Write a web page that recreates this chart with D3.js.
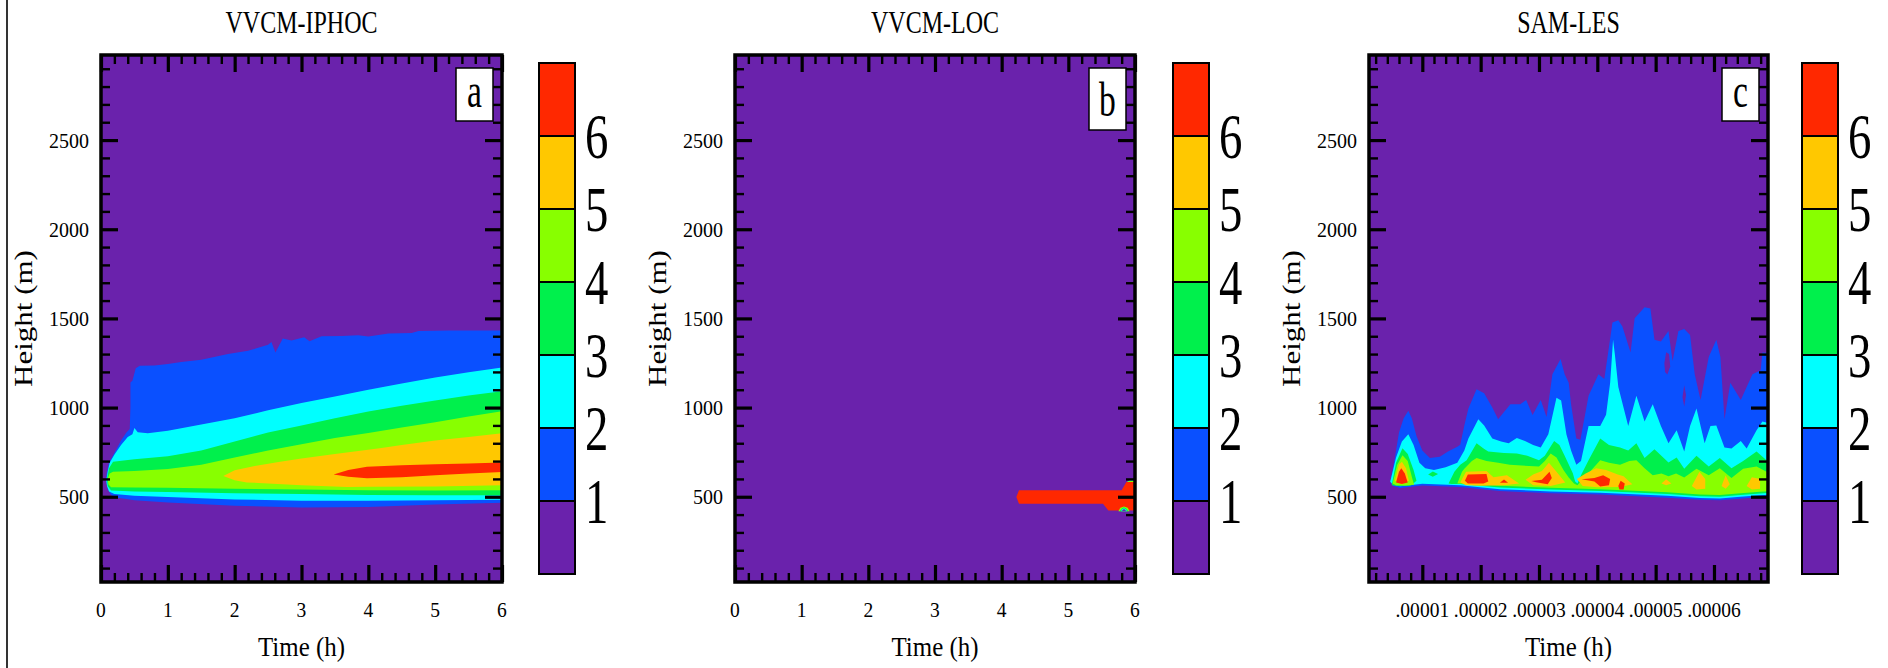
<!DOCTYPE html>
<html>
<head>
<meta charset="utf-8">
<script src="https://cdn.jsdelivr.net/npm/d3@7"></script>
<style>
  html, body { margin: 0; padding: 0; background: #fff; }
  svg { display: block; }
  text { font-family: "Liberation Serif", "Times New Roman", Times, serif; fill: #000; }
</style>
</head>
<body>
<svg id="chart" width="1888" height="668"></svg>
<script>
// ---------------------------------------------------------------
// Chart values
// ---------------------------------------------------------------
const panelTitles  = ["VVCM-IPHOC", "VVCM-LOC", "SAM-LES"];
const panelLetters = ["a", "b", "c"];

// contour levels and their fill colours (index 0 = below level 1)
const levelValues = [1, 2, 3, 4, 5, 6];
const levelColors = ["#6A22AC", "#0A50FF", "#00FFFF", "#00F04C", "#88FF00", "#FFC800", "#FF2800"];

const heightDomain     = [22, 2977];
const heightTicks      = [500, 1000, 1500, 2000, 2500];
const heightTickLabels = ["500", "1000", "1500", "2000", "2500"];

const hourDomain     = [0, 6];
const hourTicks      = [0, 1, 2, 3, 4, 5, 6];
const hourTickLabels = ["0", "1", "2", "3", "4", "5", "6"];

const lesDomain     = [0.086e-5, 6.926e-5];
const lesTicks      = [1e-5, 2e-5, 3e-5, 4e-5, 5e-5, 6e-5];
const lesTickLabels = [".00001", ".00002", ".00003", ".00004", ".00005", ".00006"];

// ---- VVCM-IPHOC contour outlines: [time (h), height (m)] ----
const iphocLevel1 = [[0.07,595],[0.09,640],[0.12,690],[0.2,745],[0.3,815],[0.38,860],[0.43,880],[0.44,1000],[0.44,1140],[0.47,1150],[0.52,1220],[0.58,1234],[0.8,1236],[1.0,1245],[1.2,1255],[1.5,1268],[1.9,1300],[2.2,1318],[2.5,1352],[2.55,1368],[2.61,1309],[2.72,1388],[2.85,1376],[3.04,1395],[3.12,1372],[3.3,1400],[3.6,1402],[3.85,1406],[4.0,1398],[4.3,1416],[4.65,1418],[4.75,1430],[5.2,1432],[6.1,1432],[6.1,468],[5,456],[4,443],[3,440],[2,450],[1,468],[0.5,480],[0.25,495],[0.15,510],[0.1,545]];
const iphocLevel2 = [[0.08,590],[0.1,640],[0.13,690],[0.2,735],[0.3,790],[0.4,835],[0.47,850],[0.5,885],[0.55,862],[0.7,856],[1.0,870],[1.5,905],[2.0,940],[2.5,985],[3.0,1025],[3.5,1062],[4.0,1100],[4.5,1135],[5.0,1168],[5.5,1198],[6.1,1230],[6.1,484],[5,480],[4,477],[3,478],[2,485],[1,498],[0.5,505],[0.2,515],[0.12,530],[0.09,560]];
const iphocLevel3 = [[0.09,600],[0.12,660],[0.18,696],[0.5,710],[1.0,727],[1.5,760],[2.0,810],[2.5,860],[3.0,900],[3.5,940],[4.0,978],[4.5,1010],[5.0,1040],[5.5,1068],[6.1,1097],[6.1,508],[5,508],[4,510],[3,515],[2,520],[1,527],[0.5,530],[0.15,535],[0.1,560]];
const iphocLevel4 = [[0.1,600],[0.13,630],[0.18,640],[0.5,645],[1.0,655],[1.5,680],[2.0,720],[2.5,760],[3.0,795],[3.5,830],[4.0,858],[4.5,888],[5.0,918],[5.5,950],[6.1,985],[6.1,537],[5,535],[4,537],[3,540],[2,545],[1,550],[0.5,552],[0.15,553],[0.11,570]];
const iphocLevel5 = [[1.83,617],[2.0,648],[2.3,672],[2.68,696],[3.0,715],[3.5,740],[4.17,772],[4.5,790],[5.0,815],[5.5,835],[6.1,860],[6.1,565],[5,558],[4,556],[3.68,555],[3,565],[2.5,575],[2.18,580],[2.0,592]];
const iphocLevel6 = [[3.48,625],[3.7,650],[3.98,668],[4.5,676],[5.0,682],[5.5,687],[6.1,693],[6.1,640],[5.5,630],[5.0,620],[4.5,610],[3.98,604],[3.7,612]];

// ---- VVCM-LOC contour outlines ----
const locLevel2Edge = [[5.88,583],[5.92,593],[6.1,593],[6.1,583]];
const locLevel4Edge = [[5.88,583],[5.91,588],[6.1,588],[6.1,583]];
const locLevel6 = [[4.22,498],[4.26,536],[5.8,536],[5.87,583],[6.1,583],[6.1,423],[5.6,423],[5.52,461],[4.26,461]];
const locDip4 = [[5.75,419],[5.78,438],[5.835,446],[5.89,438],[5.92,419]];
const locDip3 = [[5.77,419],[5.8,434],[5.835,441],[5.87,434],[5.9,419]];
const locDip2 = [[5.79,419],[5.81,430],[5.835,436],[5.86,430],[5.88,419]];
const locDip0 = [[5.8,419],[5.82,427],[5.835,431],[5.85,427],[5.87,419]];

// ---- SAM-LES contour outlines: [time (1e-5 h), height (m)] ----
const lesLevel1 = [[0.45,584],[0.52,700],[0.6,860],[0.68,940],[0.76,982],[0.82,940],[0.9,840],[1.0,760],[1.13,717],[1.3,725],[1.44,754],[1.6,780],[1.65,791],[1.72,900],[1.79,995],[1.93,1103],[2.06,1080],[2.2,1000],[2.3,934],[2.4,975],[2.51,1019],[2.68,1019],[2.78,1043],[2.89,959],[3.03,1043],[3.13,947],[3.23,1187],[3.37,1272],[3.44,1187],[3.51,1139],[3.55,1019],[3.64,826],[3.71,820],[3.85,1067],[4.02,1187],[4.12,1160],[4.26,1477],[4.36,1490],[4.43,1455],[4.57,1309],[4.64,1501],[4.81,1562],[4.91,1555],[4.98,1380],[5.09,1370],[5.22,1429],[5.29,1261],[5.39,1429],[5.49,1441],[5.59,1407],[5.67,1187],[5.77,1043],[5.91,1284],[6.04,1380],[6.11,1284],[6.18,934],[6.28,1139],[6.46,1043],[6.56,1115],[6.66,1187],[6.8,1210],[6.83,1309],[7.1,1300],[7.1,505],[6.79,498],[6.4,488],[6.1,480],[5.76,483],[5.2,495],[4.05,512],[3.2,520],[2.33,532],[1.65,555],[1.0,563],[0.62,549],[0.5,560]];
const lesGap1 = [[5.15,1250],[5.18,1310],[5.23,1300],[5.25,1230],[5.2,1185],[5.16,1200]];
const lesGap2 = [[5.46,1060],[5.49,1125],[5.52,1070],[5.49,1005]];
const lesLevel2 = [[0.45,584],[0.55,720],[0.65,810],[0.76,850],[0.85,790],[0.95,690],[1.05,660],[1.2,650],[1.4,665],[1.6,690],[1.72,760],[1.79,826],[1.96,934],[2.06,900],[2.2,826],[2.35,810],[2.48,800],[2.62,830],[2.76,813],[2.9,790],[3.03,776],[3.16,850],[3.3,1055],[3.38,1040],[3.47,850],[3.55,760],[3.64,680],[3.72,700],[3.85,897],[4.05,897],[4.15,960],[4.22,1139],[4.27,1380],[4.3,1300],[4.36,1115],[4.53,897],[4.67,1067],[4.81,922],[4.95,1019],[5.09,897],[5.22,800],[5.36,873],[5.49,754],[5.59,897],[5.7,995],[5.84,800],[5.94,897],[6.04,900],[6.18,776],[6.3,770],[6.46,813],[6.56,770],[6.73,873],[6.83,922],[7.1,900],[7.1,515],[6.79,508],[6.4,498],[6.1,490],[5.76,493],[5.2,505],[4.05,522],[3.2,530],[2.33,542],[1.65,565],[1.0,573],[0.62,559],[0.5,568]];
const lesLevel3a = [[0.475,565],[0.55,690],[0.66,772],[0.75,740],[0.85,650],[0.9,590],[0.8,562],[0.6,560]];
const lesLevel3b = [[1.1,625],[1.18,642],[1.27,628],[1.18,612]];
const lesLevel3c = [[1.45,575],[1.55,640],[1.65,680],[1.76,705],[1.93,800],[2.05,770],[2.13,754],[2.4,745],[2.62,742],[2.8,730],[3.0,705],[3.1,730],[3.26,813],[3.35,790],[3.44,730],[3.58,632],[3.62,585],[3.66,575],[3.72,620],[3.85,705],[4.05,826],[4.2,790],[4.39,776],[4.53,760],[4.67,800],[4.81,717],[4.98,766],[5.22,692],[5.36,720],[5.49,657],[5.7,730],[5.91,669],[6.1,717],[6.3,660],[6.5,700],[6.73,754],[6.9,705],[7.1,710],[7.1,525],[6.79,518],[6.4,508],[6.1,500],[5.76,503],[5.2,515],[4.05,532],[3.2,540],[2.33,552],[1.65,572],[1.5,572]];
const lesLevel4a = [[0.49,575],[0.57,680],[0.66,733],[0.75,700],[0.83,600],[0.86,568],[0.7,563],[0.55,565]];
const lesLevel4b = [[1.6,575],[1.68,640],[1.72,657],[1.85,700],[1.93,717],[2.1,700],[2.3,690],[2.5,680],[2.7,675],[3.0,670],[3.1,700],[3.2,742],[3.3,720],[3.42,650],[3.51,608],[3.6,575],[3.66,565],[3.75,600],[3.85,632],[4.05,705],[4.2,690],[4.39,680],[4.55,700],[4.67,705],[4.81,660],[4.95,620],[5.1,630],[5.22,615],[5.35,630],[5.49,608],[5.7,657],[5.91,620],[6.1,660],[6.3,605],[6.5,657],[6.73,669],[6.9,640],[7.1,650],[7.1,535],[6.79,528],[6.4,518],[6.1,510],[5.76,513],[5.2,525],[4.05,542],[3.2,550],[2.33,562],[1.75,575]];
const lesLevel5a = [[0.53,590],[0.6,680],[0.65,696],[0.72,660],[0.77,590],[0.65,570]];
const lesLevel5b = [[1.65,580],[1.75,640],[2.1,645],[2.22,610],[2.45,620],[2.66,575],[2.4,565],[2.0,562],[1.75,565]];
const lesLevel5c = [[2.77,595],[2.9,625],[3.05,645],[3.17,690],[3.3,640],[3.45,580],[3.2,560],[2.9,565]];
const lesLevel5d = [[3.65,600],[3.8,630],[3.98,660],[4.15,650],[4.35,625],[4.45,615],[4.6,570],[4.4,555],[4.0,553],[3.75,560]];
const lesLevel5e = [[5.1,575],[5.18,598],[5.27,575],[5.18,565]];
const lesLevel5f = [[5.62,560],[5.7,610],[5.75,640],[5.85,600],[5.85,545],[5.7,540]];
const lesLevel5g = [[6.13,560],[6.2,620],[6.27,570],[6.2,545]];
const lesLevel5h = [[6.56,560],[6.65,610],[6.79,600],[6.79,545],[6.65,540]];
const lesLevel6a = [[0.55,580],[0.6,640],[0.64,660],[0.7,630],[0.75,580],[0.65,572]];
const lesLevel6b = [[1.73,590],[1.78,625],[2.1,628],[2.13,585],[2.05,574],[1.78,574]];
const lesLevel6c = [[2.33,578],[2.4,597],[2.47,578]];
const lesLevel6d = [[2.87,588],[3.05,595],[3.18,640],[3.22,605],[3.15,570],[2.95,582]];
const lesLevel6e = [[3.73,598],[3.95,605],[4.1,621],[4.22,600],[4.2,565],[4.05,558],[3.95,585]];
const lesLevel6f = [[4.36,560],[4.4,590],[4.47,575],[4.45,540],[4.38,540]];

// SAM-LES times above are listed in units of 1e-5 h
const lesHours = pts => pts.map(([t, h]) => [t * 1e-5, h]);

// painting order: [level index, outline]
const iphocRegions = [[1, iphocLevel1], [2, iphocLevel2], [3, iphocLevel3], [4, iphocLevel4], [5, iphocLevel5], [6, iphocLevel6]];
const locRegions = [[2, locLevel2Edge], [4, locLevel4Edge], [6, locLevel6], [4, locDip4], [3, locDip3], [2, locDip2], [0, locDip0]];
const lesRegions = [
  [1, lesLevel1], [0, lesGap1], [0, lesGap2], [2, lesLevel2],
  [3, lesLevel3a], [3, lesLevel3b], [3, lesLevel3c],
  [4, lesLevel4a], [4, lesLevel4b],
  [5, lesLevel5a], [5, lesLevel5b], [5, lesLevel5c], [5, lesLevel5d], [5, lesLevel5e], [5, lesLevel5f], [5, lesLevel5g], [5, lesLevel5h],
  [6, lesLevel6a], [6, lesLevel6b], [6, lesLevel6c], [6, lesLevel6d], [6, lesLevel6e], [6, lesLevel6f]
].map(([lv, pts]) => [lv, lesHours(pts)]);

// ---------------------------------------------------------------
// Layout
// ---------------------------------------------------------------
const PLOT_TOP = 55, PLOT_BOTTOM = 582;
const panels = [
  { left: 101, right: 502, legendX: 539, xDomain: hourDomain, ticks: hourTicks, tickLabels: hourTickLabels, minorStep: 0.2, regions: iphocRegions, boxH: 53 },
  { left: 735, right: 1135, legendX: 1173, xDomain: hourDomain, ticks: hourTicks, tickLabels: hourTickLabels, minorStep: 0.2, regions: locRegions, boxH: 62 },
  { left: 1369, right: 1768, legendX: 1802, xDomain: lesDomain, ticks: lesTicks, tickLabels: lesTickLabels, minorStep: 0.2e-5, regions: lesRegions, boxH: 53 }
];

const svg = d3.select("#chart");
const defs = svg.append("defs");

// thin rule along the left edge of the figure
svg.append("line").attr("x1", 7).attr("x2", 7).attr("y1", 0).attr("y2", 668)
  .attr("stroke", "#000").attr("stroke-width", 1.6);

function addText(parent, str, x, y, size, sx, anchor, rotate) {
  return parent.append("text")
    .attr("transform", `translate(${x},${y}) scale(${sx},1)` + (rotate ? ` rotate(${rotate})` : ""))
    .attr("text-anchor", anchor)
    .attr("font-size", size)
    .text(str);
}

function tickRow(g, axisFn, scale, values, size, width, translate) {
  g.append("g")
    .attr("transform", translate)
    .call(axisFn(scale).tickValues(values).tickSize(-size).tickFormat(""))
    .call(s => s.select(".domain").remove())
    .call(s => s.selectAll("line").attr("stroke", "#000").attr("stroke-width", width));
}

const y = d3.scaleLinear().domain(heightDomain).range([PLOT_BOTTOM, PLOT_TOP]);
const yMinor = d3.range(100, heightDomain[1], 100).filter(v => v % 500 !== 0 && v > heightDomain[0]);

panels.forEach((p, i) => {
  const x = d3.scaleLinear().domain(p.xDomain).range([p.left, p.right]);
  const w = p.right - p.left, h = PLOT_BOTTOM - PLOT_TOP;
  const g = svg.append("g");

  defs.append("clipPath").attr("id", "plot-clip-" + i)
    .append("rect").attr("x", p.left).attr("y", PLOT_TOP).attr("width", w).attr("height", h);

  const plot = g.append("g").attr("clip-path", `url(#plot-clip-${i})`);
  plot.append("rect").attr("x", p.left).attr("y", PLOT_TOP).attr("width", w).attr("height", h)
    .attr("fill", levelColors[0]);

  const outline = d3.line().x(d => x(d[0])).y(d => y(d[1])).curve(d3.curveLinearClosed);
  p.regions.forEach(([lv, pts]) => {
    plot.append("path").attr("d", outline(pts)).attr("fill", levelColors[lv]);
  });

  // minor x ticks
  const n = Math.round(p.xDomain[1] / p.minorStep);
  const xMinor = d3.range(1, n + 1).map(k => k * p.minorStep)
    .filter(v => v > p.xDomain[0] && v < p.xDomain[1])
    .filter(v => !p.ticks.some(t => Math.abs(t - v) < p.minorStep * 0.01));

  // ticks on all four sides, pointing inward
  tickRow(g, d3.axisBottom, x, xMinor, 9, 2.4, `translate(0,${PLOT_BOTTOM})`);
  tickRow(g, d3.axisBottom, x, p.ticks, 17, 3.2, `translate(0,${PLOT_BOTTOM})`);
  tickRow(g, d3.axisTop, x, xMinor, 9, 2.4, `translate(0,${PLOT_TOP})`);
  tickRow(g, d3.axisTop, x, p.ticks, 17, 3.2, `translate(0,${PLOT_TOP})`);
  tickRow(g, d3.axisLeft, y, yMinor, 9, 2.4, `translate(${p.left},0)`);
  tickRow(g, d3.axisLeft, y, heightTicks, 17, 3.2, `translate(${p.left},0)`);
  tickRow(g, d3.axisRight, y, yMinor, 9, 2.4, `translate(${p.right},0)`);
  tickRow(g, d3.axisRight, y, heightTicks, 17, 3.2, `translate(${p.right},0)`);

  // frame
  g.append("rect").attr("x", p.left).attr("y", PLOT_TOP).attr("width", w).attr("height", h)
    .attr("fill", "none").attr("stroke", "#000").attr("stroke-width", 3.5);

  // tick labels
  p.ticks.forEach((t, k) => addText(g, p.tickLabels[k], x(t), 617, 21, 0.93, "middle"));
  heightTicks.forEach((v, k) => addText(g, heightTickLabels[k], p.left - 12, y(v) + 7.5, 21.5, 0.93, "end"));

  // titles
  const cx = (p.left + p.right) / 2;
  addText(g, panelTitles[i], cx, 33, 32, 0.75, "middle");
  addText(g, "Time (h)", cx, 656, 28, 0.89, "middle");
  addText(g, "Height (m)", p.left - 69, (PLOT_TOP + PLOT_BOTTOM) / 2, 31, 0.83, "middle", -90);

  // panel letter box
  const bx = p.right - 9 - 37, by = 68;
  g.append("rect").attr("x", bx).attr("y", by).attr("width", 37).attr("height", p.boxH)
    .attr("fill", "#fff").attr("stroke", "#000").attr("stroke-width", 1.5);
  addText(g, panelLetters[i], bx + 18.5, by + p.boxH - 14, 48, 0.7, "middle");

  // colour bar
  const cb = d3.scaleLinear().domain([0, levelColors.length]).range([574, 63]);
  const bar = g.append("g");
  bar.selectAll("rect.seg").data(levelColors).join("rect")
    .attr("class", "seg")
    .attr("x", p.legendX).attr("width", 36)
    .attr("y", (c, k) => cb(k + 1)).attr("height", (c, k) => cb(k) - cb(k + 1))
    .attr("fill", c => c);
  bar.selectAll("line.sep").data(levelValues).join("line")
    .attr("class", "sep")
    .attr("x1", p.legendX).attr("x2", p.legendX + 36)
    .attr("y1", v => cb(v)).attr("y2", v => cb(v))
    .attr("stroke", "#000").attr("stroke-width", 2.2);
  bar.append("rect").attr("x", p.legendX).attr("y", cb(levelColors.length))
    .attr("width", 36).attr("height", cb(0) - cb(levelColors.length))
    .attr("fill", "none").attr("stroke", "#000").attr("stroke-width", 2);
  levelValues.forEach(v => addText(bar, String(v), p.legendX + 46, cb(v) + 21.5, 64, 0.73, "start"));
});
</script>
</body>
</html>
